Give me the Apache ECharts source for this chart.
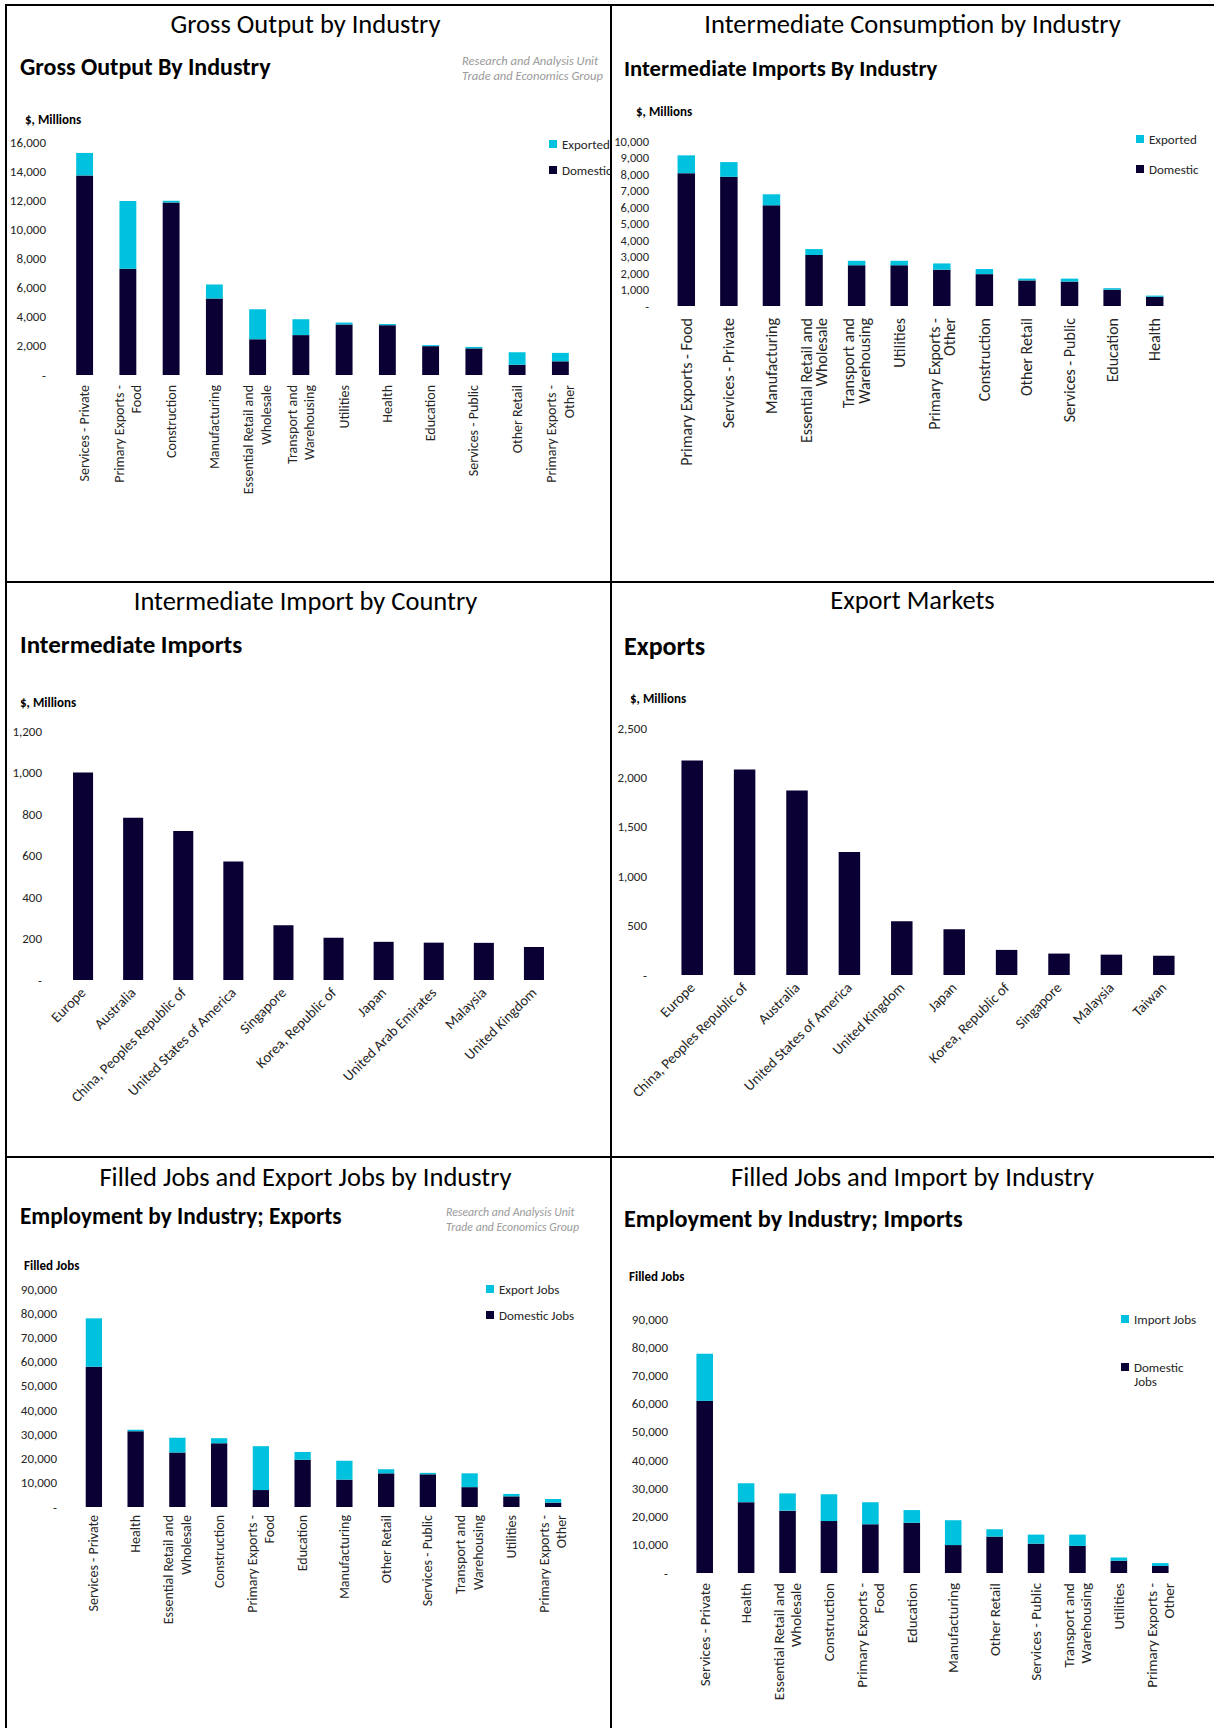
<!DOCTYPE html>
<html>
<head>
<meta charset="utf-8">
<title>Trade and Economics charts</title>
<script src="https://cdn.jsdelivr.net/npm/echarts@6.0.0/dist/echarts.min.js"></script>
<style>
  html, body { margin: 0; padding: 0; background: #fff; }
  #page { position: relative; width: 1214px; height: 1728px; overflow: hidden; }
  .panel { position: absolute; }
  .rule { position: absolute; background: #000; z-index: 5; }
</style>
</head>
<body>
<div id="page">
  <div class="panel" id="grossChart" style="left:0;top:0;width:611px;height:582px"></div>
  <div class="panel" id="interIndChart" style="left:611px;top:0;width:603px;height:582px"></div>
  <div class="panel" id="interCtyChart" style="left:0;top:582px;width:611px;height:575px"></div>
  <div class="panel" id="exportChart" style="left:611px;top:582px;width:603px;height:575px"></div>
  <div class="panel" id="expJobsChart" style="left:0;top:1157px;width:611px;height:571px"></div>
  <div class="panel" id="impJobsChart" style="left:611px;top:1157px;width:603px;height:571px"></div>

  <div class="rule" style="left:5px;top:4px;width:1209px;height:2px"></div>
  <div class="rule" style="left:5px;top:4px;width:2px;height:1724px"></div>
  <div class="rule" style="left:610px;top:4px;width:2px;height:1724px"></div>
  <div class="rule" style="left:5px;top:581px;width:1209px;height:2px"></div>
  <div class="rule" style="left:5px;top:1156px;width:1209px;height:2px"></div>
</div>
<script>
// ---- data ----
var grossCats = ['Services - Private', 'Primary Exports -\nFood', 'Construction', 'Manufacturing',
  'Essential Retail and\nWholesale', 'Transport and\nWarehousing', 'Utilities', 'Health',
  'Education', 'Services - Public', 'Other Retail', 'Primary Exports -\nOther'];
var grossDomestic = [13700, 7300, 11840, 5250, 2460, 2740, 3470, 3420, 1980, 1830, 710, 940];
var grossExported = [1550, 4650, 130, 960, 2050, 1090, 130, 80, 70, 100, 860, 580];

var interIndCats = ['Primary Exports - Food', 'Services - Private', 'Manufacturing',
  'Essential Retail and\nWholesale', 'Transport and\nWarehousing', 'Utilities',
  'Primary Exports -\nOther', 'Construction', 'Other Retail', 'Services - Public', 'Education', 'Health'];
var interIndDomestic = [8050, 7830, 6100, 3090, 2470, 2470, 2200, 1930, 1550, 1480, 990, 560];
var interIndExported = [1080, 890, 670, 360, 270, 270, 380, 310, 110, 180, 90, 70];

var importCountries = ['Europe', 'Australia', 'China, Peoples Republic of', 'United States of America',
  'Singapore', 'Korea, Republic of', 'Japan', 'United Arab Emirates', 'Malaysia', 'United Kingdom'];
var importValues = [1000, 782, 718, 571, 264, 204, 184, 180, 179, 159];

var exportCountries = ['Europe', 'China, Peoples Republic of', 'Australia', 'United States of America',
  'United Kingdom', 'Japan', 'Korea, Republic of', 'Singapore', 'Malaysia', 'Taiwan'];
var exportValues = [2171, 2081, 1868, 1246, 543, 464, 254, 217, 206, 195];

var expJobsCats = ['Services - Private', 'Health', 'Essential Retail and\nWholesale', 'Construction',
  'Primary Exports -\nFood', 'Education', 'Manufacturing', 'Other Retail', 'Services - Public',
  'Transport and\nWarehousing', 'Utilities', 'Primary Exports -\nOther'];
var expJobsDomestic = [57900, 31300, 22500, 26300, 7000, 19500, 11300, 13900, 13500, 8200, 4400, 1800];
var expJobsExport = [20000, 600, 6100, 2100, 18100, 3200, 7800, 1700, 600, 5700, 1000, 1500];

var impJobsCats = expJobsCats;
var impJobsDomestic = [61000, 25100, 22100, 18400, 17300, 17800, 9900, 12900, 10400, 9600, 4300, 2500];
var impJobsImport = [16700, 6700, 6100, 9500, 7800, 4500, 8800, 2600, 3200, 4000, 1200, 1000];

// ---- styles ----
var FONT = 'Carlito, Calibri, Lato, sans-serif';
var NAVY = '#0a0033';
var CYAN = '#00c1de';
var TXT = '#262626';

function numFmt(v) {
  if (v === 0) return '-';
  return String(v).replace(/\B(?=(\d{3})+(?!\d))/g, ',');
}

function titles(c) {
  var t = [
    { text: c.title, left: 'center', top: c.titleTop, padding: 0,
      textStyle: { fontFamily: FONT, fontSize: 26.5, fontWeight: 'normal', color: '#000' } },
    { text: c.sub, left: c.subLeft, top: c.subTop, padding: 0,
      textStyle: { fontFamily: FONT, fontSize: c.subSize, fontWeight: 'bold', color: '#000' } },
    { text: c.unit, left: c.unitLeft, top: c.unitTop, padding: 0,
      textStyle: { fontFamily: FONT, fontSize: 13, fontWeight: 'bold', color: '#000' } }
  ];
  if (c.noteLeft !== undefined) {
    t.push({ text: 'Research and Analysis Unit\nTrade and Economics Group', left: c.noteLeft, top: c.noteTop, padding: 0,
      textStyle: { fontFamily: FONT, fontSize: c.noteSize, fontStyle: 'italic', fontWeight: 'normal', color: '#9a9a9a', lineHeight: 15 } });
  }
  // second line of a wrapped legend entry
  if (c.legendTail) {
    t.push({ text: c.legendTail[0], left: c.legendTail[1], top: c.legendTail[2], padding: 0,
      textStyle: { fontFamily: FONT, fontSize: 13, fontWeight: 'normal', color: TXT } });
  }
  return t;
}

function makeChart(id, c) {
  var myChart = echarts.init(document.getElementById(id), null, { renderer: 'svg' });
  var series = [];
  if (c.top) {
    series.push({ name: c.baseName, type: 'bar', stack: 'total', barWidth: c.barWidth,
      itemStyle: { color: NAVY }, data: c.base });
    series.push({ name: c.topName, type: 'bar', stack: 'total', barWidth: c.barWidth,
      itemStyle: { color: CYAN }, data: c.top });
  } else {
    series.push({ name: c.baseName, type: 'bar', barWidth: c.barWidth,
      itemStyle: { color: NAVY }, data: c.base });
  }
  var option = {
    animation: false,
    backgroundColor: 'transparent',
    title: titles(c),
    grid: { left: c.grid[0], right: c.grid[1], top: c.grid[2], bottom: c.grid[3],
      containLabel: false, outerBoundsMode: 'none' },
    xAxis: {
      type: 'category',
      data: c.cats,
      axisLine: { show: false },
      axisTick: { show: false },
      axisLabel: { interval: 0, rotate: c.rotate, margin: c.xMargin, fontFamily: FONT,
        fontSize: c.xSize, lineHeight: c.xLine || (c.xSize + 1.5), color: TXT, hideOverlap: false }
    },
    yAxis: {
      type: 'value',
      min: 0, max: c.max, interval: c.step,
      axisLine: { show: false },
      axisTick: { show: false },
      splitLine: { show: false },
      axisLabel: { margin: c.yMargin, fontFamily: FONT, fontSize: c.ySize, color: TXT, formatter: numFmt }
    },
    series: series
  };
  if (c.top) {
    option.legend = {
      orient: 'vertical', left: c.legend[0], top: c.legend[1], itemGap: c.legend[2],
      padding: 0, icon: 'rect', itemWidth: 8, itemHeight: 8,
      data: [c.topName, c.baseName],
      formatter: function (name) { return c.legendLabel && c.legendLabel[name] ? c.legendLabel[name] : name; },
      textStyle: { fontFamily: FONT, fontSize: 13, color: TXT, lineHeight: 15 }
    };
  }
  myChart.setOption(option);
  window.addEventListener('resize', function () { myChart.resize(); });
}

makeChart('grossChart', {
  title: 'Gross Output by Industry', titleTop: 10,
  sub: 'Gross Output By Industry', subSize: 24, subLeft: 20, subTop: 54,
  unit: '$, Millions', unitLeft: 25, unitTop: 112.5,
  noteLeft: 462, noteTop: 52.5, noteSize: 12.5,
  cats: grossCats, base: grossDomestic, top: grossExported,
  baseName: 'Domestic', topName: 'Exported',
  grid: [63, 29, 142, 207], max: 16000, step: 2000,
  barWidth: '39%', rotate: 90, xMargin: 10, yMargin: 17, xSize: 14, xLine: 17.5, ySize: 13,
  legend: [549, 136.5, 11]
});

makeChart('interIndChart', {
  title: 'Intermediate Consumption by Industry', titleTop: 10,
  sub: 'Intermediate Imports By Industry', subSize: 22.7, subLeft: 13, subTop: 56.6,
  unit: '$, Millions', unitLeft: 25, unitTop: 104.5,
  cats: interIndCats, base: interIndDomestic, top: interIndExported,
  baseName: 'Domestic', topName: 'Exported',
  grid: [54, 38, 141, 276], max: 10000, step: 1000,
  barWidth: '41%', rotate: 90, xMargin: 12, yMargin: 16, xSize: 16, xLine: 15.5, ySize: 12.5,
  legend: [525, 131.5, 15]
});

makeChart('interCtyChart', {
  title: 'Intermediate Import by Country', titleTop: 5,
  sub: 'Intermediate Imports', subSize: 25, subLeft: 20, subTop: 49.5,
  unit: '$, Millions', unitLeft: 20, unitTop: 113.5,
  cats: importCountries, base: importValues,
  baseName: 'Imports',
  grid: [58, 52, 149, 177], max: 1200, step: 200,
  barWidth: '40%', rotate: 45, xMargin: 10, yMargin: 16, xSize: 14.5, ySize: 13
});

makeChart('exportChart', {
  title: 'Export Markets', titleTop: 4,
  sub: 'Exports', subSize: 26, subLeft: 13, subTop: 51,
  unit: '$, Millions', unitLeft: 19, unitTop: 109.5,
  cats: exportCountries, base: exportValues,
  baseName: 'Exports',
  grid: [55, 24, 146, 182], max: 2500, step: 500,
  barWidth: '41%', rotate: 45, xMargin: 10, yMargin: 19, xSize: 14.5, ySize: 13
});

makeChart('expJobsChart', {
  title: 'Filled Jobs and Export Jobs by Industry', titleTop: 6,
  sub: 'Employment by Industry; Exports', subSize: 23.3, subLeft: 20, subTop: 47.3,
  unit: 'Filled Jobs', unitLeft: 24, unitTop: 101.5,
  noteLeft: 446, noteTop: 47.5, noteSize: 11.8,
  cats: expJobsCats, base: expJobsDomestic, top: expJobsExport,
  baseName: 'Domestic Jobs', topName: 'Export Jobs',
  grid: [73, 37, 132, 221], max: 90000, step: 10000,
  barWidth: '39%', rotate: 90, xMargin: 8, yMargin: 16, xSize: 14, xLine: 17.5, ySize: 13,
  legend: [486, 124.5, 11]
});

makeChart('impJobsChart', {
  title: 'Filled Jobs and Import by Industry', titleTop: 6,
  sub: 'Employment by Industry; Imports', subSize: 24.3, subLeft: 13, subTop: 49.8,
  unit: 'Filled Jobs', unitLeft: 18, unitTop: 112.5,
  cats: impJobsCats, base: impJobsDomestic, top: impJobsImport,
  baseName: 'Domestic Jobs', topName: 'Import Jobs',
  legendLabel: { 'Domestic Jobs': 'Domestic' },
  legendTail: ['Jobs', 523, 218],
  grid: [73, 33, 162, 155], max: 90000, step: 10000,
  barWidth: '40%', rotate: 90, xMargin: 10, yMargin: 16, xSize: 15, xLine: 17.3, ySize: 13,
  legend: [510, 154.5, 33]
});
</script>
</body>
</html>
